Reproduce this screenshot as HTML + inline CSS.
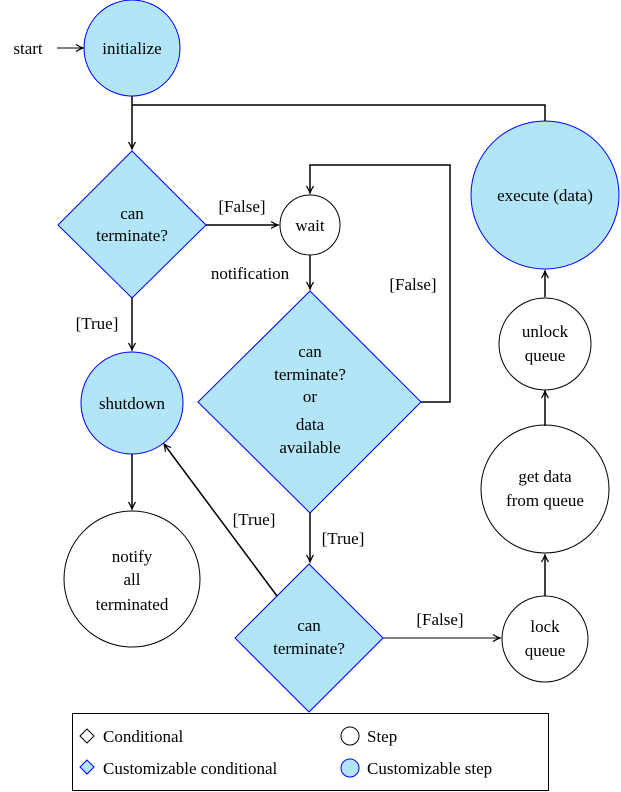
<!DOCTYPE html>
<html><head><meta charset="utf-8"><style>
html,body{margin:0;padding:0;background:#fff;}
svg{display:block;}
svg text{font-family:"Liberation Serif","DejaVu Serif",serif;font-size:17px;fill:#000;}
</style></head><body>
<svg width="621" height="792" viewBox="0 0 621 792" xmlns="http://www.w3.org/2000/svg" font-family="Liberation Serif, DejaVu Serif, serif" font-size="17">
<defs>
<marker id="a" markerWidth="10" markerHeight="10" refX="8" refY="5" orient="auto" markerUnits="userSpaceOnUse">
<path d="M1,1.5 Q5,4 8,5 Q5,6 1,8.5" fill="none" stroke="#000" stroke-width="1.2"/>
</marker>
</defs>
<g fill="#b3e5f8" stroke="#0000ff" stroke-width="1">
<circle cx="132" cy="48" r="48"/>
<polygon points="132,151 206,225 132,298 58,225"/>
<polygon points="310,291 421,402 310,513 198,402"/>
<polygon points="309,564 383,638 309,712 235,638"/>
<circle cx="132" cy="403" r="51"/>
<circle cx="545" cy="195" r="74"/>
</g>
<g fill="#fff" stroke="#000" stroke-width="1">
<circle cx="310" cy="225" r="30"/>
<circle cx="132" cy="579" r="68"/>
<circle cx="545" cy="639" r="43"/>
<circle cx="545" cy="489" r="64"/>
<circle cx="545" cy="344" r="46"/>
</g>
<g fill="none" stroke="#000" stroke-width="1.5" marker-end="url(#a)">
<path d="M132,96 V149"/>
<path d="M132,105 H545 V121" marker-end="none"/>
<path d="M206,225 H278"/>
<path d="M310,255 V289"/>
<path d="M421,402 H450 V165 H310 V193"/>
<path d="M132,298 V350"/>
<path d="M132,454 V509"/>
<path d="M310,513 V562"/>
<path d="M277,596 L164,444"/>
<path d="M383,638 H500" stroke-width="1.1"/>
<path d="M545,596 V555"/>
<path d="M545,426 V391"/>
<path d="M545,297 V271"/>
</g>
<path d="M57,48 H83" stroke="#000" stroke-width="1" fill="none" marker-end="url(#a)"/>
<g text-anchor="middle">
<text x="28" y="54">start</text>
<text x="132" y="54">initialize</text>
<text x="132" y="219">can</text><text x="132" y="241">terminate?</text>
<text x="242" y="212">[False]</text>
<text x="310" y="231">wait</text>
<text x="250" y="279">notification</text>
<text x="413" y="290">[False]</text>
<text x="310" y="357">can</text><text x="310" y="380">terminate?</text><text x="310" y="402">or</text><text x="310" y="430">data</text><text x="310" y="453">available</text>
<text x="97" y="329">[True]</text>
<text x="132" y="409">shutdown</text>
<text x="343" y="544">[True]</text>
<text x="254" y="525">[True]</text>
<text x="132" y="562">notify</text><text x="132" y="585">all</text><text x="132" y="610">terminated</text>
<text x="309" y="631">can</text><text x="309" y="654">terminate?</text>
<text x="440" y="625">[False]</text>
<text x="545" y="632">lock</text><text x="545" y="656">queue</text>
<text x="545" y="482">get data</text><text x="545" y="506">from queue</text>
<text x="545" y="337">unlock</text><text x="545" y="361">queue</text>
<text x="545" y="201">execute (data)</text>
</g>
<rect x="72.5" y="713.5" width="476" height="77" fill="none" stroke="#000" stroke-width="1"/>
<polygon points="87,729 94,736 87,743 80,736" fill="#fff" stroke="#000"/>
<polygon points="87,760 94,767 87,774 80,767" fill="#b3e5f8" stroke="#0000ff"/>
<circle cx="350" cy="736" r="9" fill="#fff" stroke="#000"/>
<circle cx="350" cy="768" r="9" fill="#b3e5f8" stroke="#0000ff"/>
<text x="103" y="742">Conditional</text>
<text x="103" y="774">Customizable conditional</text>
<text x="367" y="742">Step</text>
<text x="367" y="774">Customizable step</text>
</svg>
</body></html>
